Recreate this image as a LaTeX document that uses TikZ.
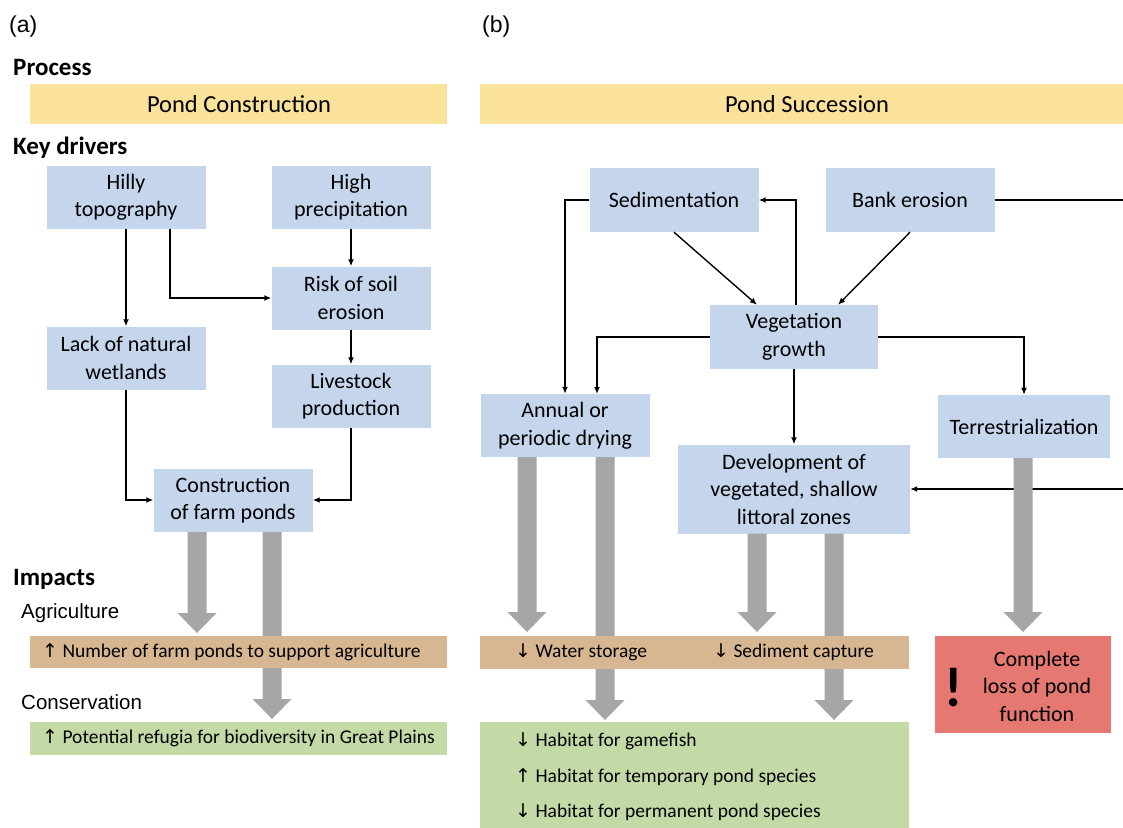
\documentclass[tikz,border=0pt]{standalone}
\usepackage{fontspec}
\setmainfont{Carlito}
\newfontfamily\labfont{Liberation Sans}
\newfontfamily\arrfont{DejaVu Sans}
\usetikzlibrary{arrows.meta,calc}
\definecolor{bluec}{RGB}{197,214,236}
\definecolor{yellowc}{RGB}{250,226,155}
\definecolor{brownc}{RGB}{215,183,146}
\definecolor{greenc}{RGB}{196,218,166}
\definecolor{redc}{RGB}{229,120,113}
\definecolor{grayc}{RGB}{166,166,166}
\newcommand\fatarr[3]{\fill[grayc] (#1-9.5,#2) -- (#1+9.5,#2) -- (#1+9.5,#3-20) -- (#1+19.5,#3-20) -- (#1,#3) -- (#1-19.5,#3-20) -- (#1-9.5,#3-20) -- cycle;}
\newcommand\upar{{\arrfont\fontsize{19}{19}\selectfont ↑}}
\newcommand\dnar{{\arrfont\fontsize{19}{19}\selectfont ↓}}
\begin{document}
\begin{tikzpicture}[x=1pt,y=-1pt,
  box/.style={fill=bluec, inner sep=0pt, minimum width=159pt, minimum height=63pt, align=center, font=\fontsize{22}{27.5}\selectfont},
  conn/.style={draw=black, line width=1.4pt, -{Latex[length=7pt,width=6pt]}},
  head/.style={font=\fontsize{25}{28}\selectfont\bfseries, anchor=west, inner sep=0pt},
  sub/.style={font=\labfont\fontsize{20.5}{24}\selectfont, anchor=west, inner sep=0pt},
  bartext/.style={font=\fontsize{19.5}{23}\selectfont, anchor=west, inner sep=0pt},
  titletext/.style={font=\fontsize{24.5}{28}\selectfont, inner sep=0pt}]
\useasboundingbox (0,0) rectangle (1123,827);
\fill[white] (0,0) rectangle (1123,827);

% labels
\node[sub, font=\labfont\fontsize{23}{26}\selectfont] (la) at (9,27) {(a)};
\node[sub, font=\labfont\fontsize{23}{26}\selectfont] (lb) at (482,27) {(b)};
\node[head] (hproc) at (13,67) {Process};
\node[head] (hkey) at (13,148) {Key drivers};
\node[head] (himp) at (13,579) {Impacts};
\node[sub] (hagr) at (21,613) {Agriculture};
\node[sub] (hcons) at (21,702) {Conservation};

% process bars
\fill[yellowc] (30,84) rectangle (447,124);
\node[titletext] (pc) at (239,104) {Pond Construction};
\fill[yellowc] (480,84) rectangle (1130,124);
\node[titletext] (ps) at (807,104) {Pond Succession};

% panel (a) boxes
\node[box] (hilly) at (126,197) {Hilly\\topography};
\node[box] (precip) at (351,197) {High\\precipitation};
\node[box] (risk) at (351,298) {Risk of soil\\erosion};
\node[box] (lack) at (126,358) {Lack of natural\\wetlands};
\node[box] (live) at (351,396) {Livestock\\production};
\node[box] (constr) at (233,500) {Construction\\of farm ponds};

\draw[conn] (hilly.south) -- (lack.north);
\draw[conn] ([xshift=44pt]hilly.south) |- (risk.west);
\draw[conn] (precip.south) -- (risk.north);
\draw[conn] (risk.south) -- (live.north);
\draw[conn] (lack.south) |- (constr.west);
\draw[conn] (live.south) |- (constr.east);

% panel (b) boxes
\node[box, minimum width=169pt, minimum height=64pt] (sed) at (674,200) {Sedimentation};
\node[box, minimum width=169pt, minimum height=64pt] (bank) at (910,200) {Bank erosion};
\node[box, minimum width=168pt, minimum height=64pt] (veg) at (794,337) {Vegetation\\growth};
\node[box, minimum width=169pt, minimum height=63pt] (annual) at (565,425.5) {Annual or\\periodic drying};
\node[box, minimum width=232pt, minimum height=89pt] (dev) at (794,489) {Development of\\vegetated, shallow\\littoral zones};
\node[box, minimum width=172pt, minimum height=63pt] (terr) at (1024,426.5) {Terrestrialization};

\coordinate (vegl) at (597,394);
\coordinate (edge) at (1130,200);
\draw[conn] (sed.west) -| (annual.north);
\draw[conn] ([xshift=2pt]veg.north) |- (sed.east);
\draw[conn] (sed.south) -- ([xshift=-37pt]veg.north);
\draw[conn] (bank.south) -- ([xshift=44pt]veg.north);
\draw[conn] (veg.west) -| (vegl);
\draw[conn] (veg.east) -| (terr.north);
\draw[conn] (veg.south) -- (dev.north);
\draw[conn] (bank.east) -- (edge) |- (dev.east);

% fat gray arrows
\fatarr{197}{532}{633}
\fatarr{272}{532}{719}
\fatarr{527}{457}{632}
\fatarr{605}{457}{720}
\fatarr{757}{533.5}{632}
\fatarr{834}{533.5}{720}
\fatarr{1023}{458}{632}

% impact bars (a)
\fill[brownc] (30,636) rectangle (447,668);
\node[bartext] (ia1) at (42,652) {\upar\ Number of farm ponds to support agriculture};
\fill[greenc] (30,722) rectangle (447,755);
\node[bartext] (ia2) at (42,738.5) {\upar\ Potential refugia for biodiversity in Great Plains};

% impact bars (b)
\fill[brownc] (480,636) rectangle (909,669);
\node[bartext] (ib1) at (515,652.5) {\dnar\ Water storage};
\node[bartext] (ib2) at (713,652.5) {\dnar\ Sediment capture};
\fill[greenc] (480,722) rectangle (909,830);
\node[bartext] (ib3) at (515,741) {\dnar\ Habitat for gamefish};
\node[bartext] (ib4) at (515,777) {\upar\ Habitat for temporary pond species};
\node[bartext] (ib5) at (515,812) {\dnar\ Habitat for permanent pond species};

\fill[redc] (935,636) rectangle (1111,733);
\node[align=center, font=\fontsize{22}{27.5}\selectfont, inner sep=0pt] (loss) at (1037,686) {Complete\\loss of pond\\function};
\node[font=\fontsize{56}{56}\selectfont\bfseries, inner sep=0pt] (excl) at (954,688) {!};
\end{tikzpicture}
\end{document}
